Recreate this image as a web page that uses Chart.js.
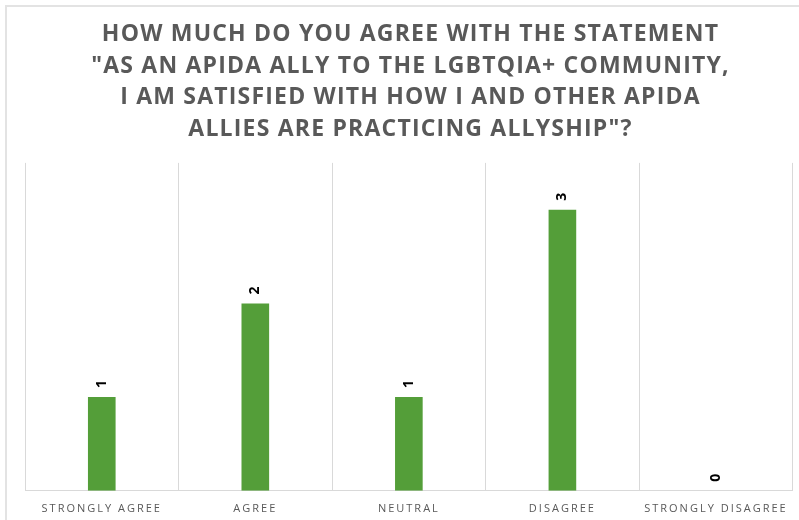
<!DOCTYPE html>
<html>
<head>
<meta charset="utf-8">
<script src="https://cdn.jsdelivr.net/npm/chart.js@4/dist/chart.umd.min.js"></script>
<style>
  html, body { margin: 0; padding: 0; background: #ffffff; }
  #frame { position: absolute; left: 5px; top: 5px; width: 800px; height: 520px; border-left: 2px solid #e3e3e3; border-top: 2px solid #e3e3e3; }
  #wrap { position: absolute; left: 0; top: 0; width: 799px; height: 520px; }
</style>
</head>
<body>
<div id="frame"></div>
<div id="wrap"><canvas id="c" width="799" height="520"></canvas></div>
<script>
const titleLines = [
  'HOW MUCH DO YOU AGREE WITH THE STATEMENT',
  '"AS AN APIDA ALLY TO THE LGBTQIA+ COMMUNITY,',
  'I AM SATISFIED WITH HOW I AND OTHER APIDA',
  'ALLIES ARE PRACTICING ALLYSHIP"?'
];
const categories = ['STRONGLY AGREE', 'AGREE', 'NEUTRAL', 'DISAGREE', 'STRONGLY DISAGREE'];
const counts = [1, 2, 1, 3, 0];

const spacingPlugin = {
  id: 'spacing',
  beforeLayout(chart) { chart.ctx.letterSpacing = '2px'; },
  beforeDraw(chart) { chart.ctx.letterSpacing = '1.2px'; },
  beforeDatasetsDraw(chart) { chart.ctx.letterSpacing = '0px'; }
};

const valueLabels = {
  id: 'valueLabels',
  afterDatasetsDraw(chart) {
    const ctx = chart.ctx;
    const meta = chart.getDatasetMeta(0);
    ctx.save();
    ctx.letterSpacing = '0px';
    ctx.font = 'bold 14px "Open Sans", sans-serif';
    ctx.fillStyle = '#000000';
    ctx.textAlign = 'left';
    ctx.textBaseline = 'middle';
    meta.data.forEach((bar, i) => {
      ctx.save();
      ctx.translate(bar.x, bar.y - 9);
      ctx.rotate(-Math.PI / 2);
      ctx.fillText(String(counts[i]), 0, 0);
      ctx.restore();
    });
    ctx.restore();
    ctx.letterSpacing = '2px';
  }
};

new Chart(document.getElementById('c'), {
  type: 'bar',
  data: {
    labels: categories,
    datasets: [{
      data: counts,
      backgroundColor: '#549e39',
      borderWidth: 0,
      categoryPercentage: 1.0,
      barPercentage: 0.18
    }]
  },
  options: {
    responsive: false,
    animation: false,
    layout: { padding: { left: 25, right: 3, top: 5, bottom: -6 } },
    plugins: {
      legend: { display: false },
      tooltip: { enabled: false },
      title: {
        display: true,
        text: titleLines,
        color: '#595959',
        font: { family: '"Open Sans", sans-serif', size: 23, weight: 'bold', lineHeight: 1.39 },
        padding: { top: 13, bottom: 17 }
      }
    },
    scales: {
      x: {
        grid: { display: true, color: '#d9d9d9', lineWidth: 1, drawTicks: false, offset: true },
        border: { display: true, color: '#d9d9d9', width: 1 },
        ticks: { z: 1, color: '#595959', font: { family: '"Open Sans", sans-serif', size: 11 }, padding: 11, maxRotation: 0, autoSkip: false }
      },
      y: {
        display: false,
        min: 0,
        max: 3.5
      }
    }
  },
  plugins: [spacingPlugin, valueLabels]
});
</script>
</body>
</html>
